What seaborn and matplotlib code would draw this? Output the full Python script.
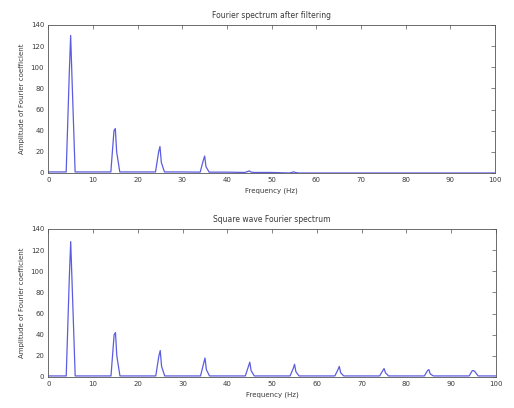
import matplotlib
matplotlib.use("Agg")
import matplotlib.pyplot as plt
import numpy as np
import pandas as pd
import seaborn as sns

# Odd harmonics of the 5 Hz square wave (Hz)
harmonics = [5, 15, 25, 35, 45, 55, 65, 75, 85, 95]

# Square wave spectrum: peak height and the shoulder levels either side of it
square_peak = [128, 42, 25, 18, 14, 12, 10, 8, 7, 6]
square_left = [95, 40, 20, 13, 10, 8, 7, 6, 6, 6]
square_right = [90, 20, 10, 7, 6, 5, 4, 4, 3, 5]
square_floor = [1.0, 1.0, 1.0, 1.0, 1.0, 1.0, 1.0, 1.0, 1.0, 1.0]

# Spectrum after the low-pass filter
filt_peak = [130, 42, 25, 16, 2, 1, 0, 0, 0, 0]
filt_left = [95, 40, 20, 12, 1.5, 0.8, 0, 0, 0, 0]
filt_right = [90, 20, 10, 6, 1, 0.5, 0, 0, 0, 0]
filt_floor = [1.0, 1.0, 1.0, 0.8, 0.5, 0.0, 0.0, 0.0, 0.0, 0.0]

x_ticks = [0, 10, 20, 30, 40, 50, 60, 70, 80, 90, 100]
y_ticks = [0, 20, 40, 60, 80, 100, 120, 140]


def spectrum_frame(peak, left, right, floor):
    f, a = [0.0], [floor[0]]
    for h, p, l, r, fl in zip(harmonics, peak, left, right, floor):
        f += [h - 1.0, h - 0.3, h, h + 0.3, h + 1.0]
        a += [fl, l, p, r, fl]
        f.append(h + 5.0)
        a.append(fl)
    df = pd.DataFrame({"Frequency": f, "Amplitude": a})
    return df[df["Frequency"] <= 100]


sns.set_style("white")
plt.rcParams["font.family"] = ["DejaVu Sans"]

fig = plt.figure(figsize=(5.14, 4.08), dpi=100)
ax_top = fig.add_axes([0.094, 0.576, 0.869, 0.363])
ax_bot = fig.add_axes([0.094, 0.076, 0.871, 0.363])

line_color = "#5c5ce0"
text_color = "#3a3a3a"
panels = [
    (ax_top, spectrum_frame(filt_peak, filt_left, filt_right, filt_floor),
     "Fourier spectrum after filtering"),
    (ax_bot, spectrum_frame(square_peak, square_left, square_right, square_floor),
     "Square wave Fourier spectrum"),
]

for ax, df, title in panels:
    sns.lineplot(data=df, x="Frequency", y="Amplitude", ax=ax,
                 color=line_color, linewidth=0.9, sort=False)
    ax.set_xlim(0, 100)
    ax.set_ylim(0, 140)
    ax.set_xticks(x_ticks)
    ax.set_yticks(y_ticks)
    ax.tick_params(direction="in", top=True, right=True, length=3,
                   width=0.5, labelsize=5, colors="#555555",
                   labelcolor=text_color, pad=3)
    for s in ax.spines.values():
        s.set_visible(True)
        s.set_linewidth(0.6)
        s.set_color("#555555")
    ax.set_title(title, fontsize=5.5, color=text_color, pad=5)
    ax.set_xlabel("Frequency (Hz)", fontsize=5, color=text_color, labelpad=3)
    ax.set_ylabel("Amplitude of Fourier coefficient", fontsize=5,
                  color=text_color, labelpad=4)

fig.savefig("out.png", dpi=100)
